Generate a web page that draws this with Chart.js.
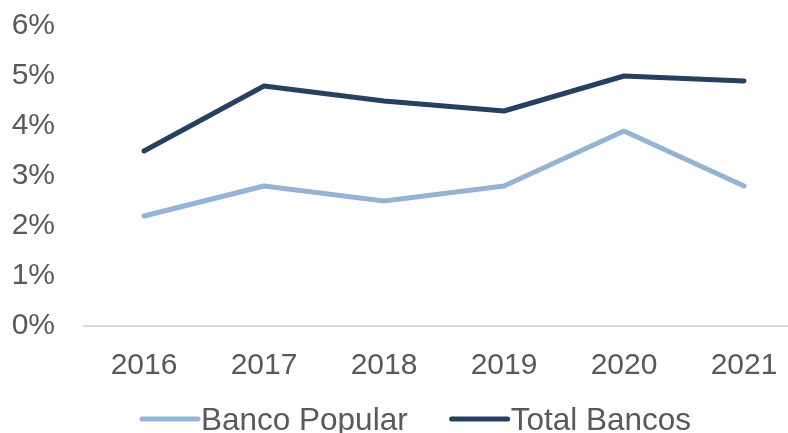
<!DOCTYPE html>
<html>
<head>
<meta charset="utf-8">
<script src="https://cdn.jsdelivr.net/npm/chart.js@4.4.1/dist/chart.umd.min.js"></script>
<style>
  html, body { margin: 0; padding: 0; background: #fff; overflow: hidden; }
  #wrap { position: relative; width: 804px; height: 433px; }
</style>
</head>
<body>
<div id="wrap"><canvas id="chart"></canvas></div>
<script>
const years = ['2016', '2017', '2018', '2019', '2020', '2021'];
const bancoPopular = [2.2, 2.8, 2.5, 2.8, 3.9, 2.8];
const totalBancos = [3.5, 4.8, 4.5, 4.3, 5.0, 4.9];
const yTicks = [0, 1, 2, 3, 4, 5, 6];

const textColor = '#595959';
const axisFont = 'Liberation Sans, Arial, sans-serif';

// legend drawn as a line + label, like the Excel original
const lineLegend = {
  id: 'lineLegend',
  afterDraw(chart) {
    const ctx = chart.ctx;
    const lineLen = 56, gapText = 3, gapItem = 44;
    let x = chart.chartArea.left + 58;
    const yLine = 419;
    const yText = 430;
    ctx.save();
    ctx.font = '31.5px ' + axisFont;
    ctx.textBaseline = 'alphabetic';
    ctx.textAlign = 'left';
    chart.data.datasets.forEach(ds => {
      ctx.strokeStyle = ds.borderColor;
      ctx.lineWidth = ds.borderWidth;
      ctx.lineCap = 'round';
      ctx.beginPath();
      ctx.moveTo(x, yLine);
      ctx.lineTo(x + lineLen, yLine);
      ctx.stroke();
      ctx.fillStyle = textColor;
      ctx.fillText(ds.label, x + lineLen + gapText, yText);
      x += lineLen + gapText + ctx.measureText(ds.label).width + gapItem;
    });
    ctx.restore();
  }
};

new Chart(document.getElementById('chart'), {
  type: 'line',
  data: {
    labels: years,
    datasets: [
      {
        label: 'Banco Popular',
        data: bancoPopular,
        borderColor: '#95B3D7',
        borderWidth: 5,
        borderCapStyle: 'round',
        borderJoinStyle: 'round',
        pointRadius: 0,
        tension: 0
      },
      {
        label: 'Total Bancos',
        data: totalBancos,
        borderColor: '#254061',
        borderWidth: 5,
        borderCapStyle: 'round',
        borderJoinStyle: 'round',
        pointRadius: 0,
        tension: 0
      }
    ]
  },
  options: {
    responsive: true,
    maintainAspectRatio: false,
    animation: false,
    layout: { padding: { top: 26, right: 0, bottom: 27, left: 0 } },
    plugins: {
      legend: { display: false },
      tooltip: { enabled: false }
    },
    scales: {
      x: {
        offset: true,
        grid: { display: false, drawTicks: false },
        border: { display: true, color: '#D9D9D9', width: 2 },
        ticks: {
          color: textColor,
          padding: 22,
          maxRotation: 0,
          font: { family: axisFont, size: 30 }
        }
      },
      y: {
        min: 0,
        max: 6,
        afterBuildTicks: scale => { scale.ticks = yTicks.map(v => ({ value: v })); },
        afterFit: scale => { scale.width = 84; scale.paddingTop = 0; },
        grid: { display: false, drawTicks: false },
        border: { display: false },
        ticks: {
          color: textColor,
          padding: 29,
          font: { family: axisFont, size: 30 },
          callback: v => v + '%'
        }
      }
    }
  },
  plugins: [lineLegend]
});
</script>
</body>
</html>
